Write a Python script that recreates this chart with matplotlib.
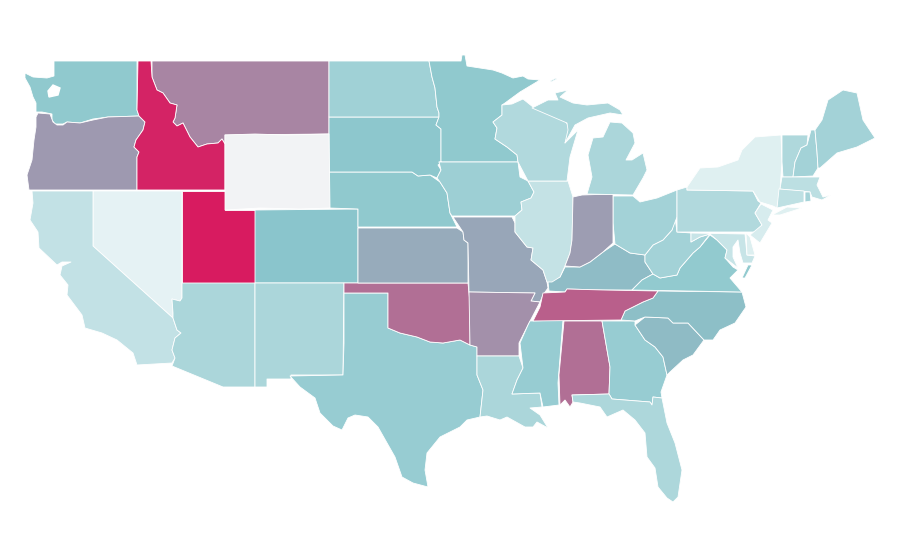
import numpy as np
from matplotlib import pyplot as plt
from matplotlib.collections import PolyCollection
from matplotlib.colors import LinearSegmentedColormap, Normalize

# state outlines (map units = picture pixels)
WA = [(54,61),(137,61),(137,110),(139,116),(108,117),(93,119),(80,123),(67,122),(63,124),(55,124),(52,120),(52,114),
      (42,112),(36,112),(36,103),(33,97),(30,87),(25,78),(25,73),(33,77),(47,78),(54,76)]
PUGET_SOUND = [(48,91),(53,85),(60,88),(58,95),(49,97)]
OR = [(36,117),(38,113),(50,114),(53,122),(57,125),(63,125),(67,122),(80,123),(93,120),(108,117),(139,116),(145,122),
      (143,130),(136,140),(134,147),(139,152),(137,157),(137,190),(29,190),(27,175),(32,160),(34,140),(36,127)]
ID = [(138,61),(151,61),(152,77),(157,90),(163,93),(170,103),(177,105),(175,118),(173,122),(177,126),(183,123),
      (190,137),(198,147),(207,144),(218,143),(222,139),(225,144),(225,190),(137,190),(137,157),(139,152),(134,147),
      (136,140),(143,130),(145,122),(139,116),(137,110)]
MT = [(152,61),(329,61),(329,134),(225,135),(225,144),(222,139),(218,143),(207,144),(198,147),(190,137),(183,123),
      (177,126),(173,122),(175,118),(177,105),(170,103),(163,93),(157,90),(152,77)]
WY = [(225,135),(255,134),(285,135),(329,134),(330,208),(300,209),(260,208),(225,210)]
NV = [(93,191),(182,191),(182,298),(180,301),(172,299),(173,313),(173,318),(93,246)]
CA = [(32,191),(93,191),(93,246),(173,318),(177,330),(181,333),(175,338),(172,350),(175,358),(172,363),(137,365),
      (133,353),(117,340),(102,333),(85,328),(82,315),(67,295),(68,285),(60,275),(62,266),(71,262),(62,262),(57,265),
      (39,248),(38,232),(30,220),(33,203)]
UT = [(182,191),(225,191),(225,210),(255,210),(255,283),(182,283)]
CO = [(255,210),(358,209),(358,283),(255,283)]
AZ = [(182,283),(255,283),(255,387),(223,387),(172,366),(175,358),(172,350),(175,338),(181,333),(177,330),(173,318),
      (173,313),(172,299),(180,301),(182,298)]
NM = [(255,283),(344,283),(343,375),(291,375),(291,379),(267,379),(267,387),(255,387)]
TX = [(344,293),(388,293),(388,328),(400,333),(417,337),(430,342),(443,343),(460,340),(470,345),(477,347),(477,375),
      (483,390),(480,417),(467,420),(460,427),(440,437),(427,453),(425,470),(428,487),(413,483),(402,477),(395,457),
      (378,427),(368,417),(355,415),(348,418),(342,430),(333,426),(320,413),(315,398),(300,387),(290,376),(343,375),
      (344,343)]
OK = [(344,283),(468,283),(470,303),(470,345),(460,340),(443,343),(430,342),(417,337),(400,333),(388,328),(388,293),
      (344,293)]
KS = [(358,228),(457,228),(463,232),(464,240),(468,243),(468,283),(358,283)]
NE = [(329,172),(412,172),(418,176),(430,175),(440,182),(447,193),(450,213),(457,227),(358,227),(358,209),(329,208)]
SD = [(329,117),(439,117),(436,125),(441,129),(441,163),(438,165),(441,170),(437,178),(430,175),(418,176),(412,172),
      (329,172)]
ND = [(329,61),(429,61),(432,77),(435,88),(437,107),(439,113),(439,117),(329,117)]
MN = [(429,61),(461,61),(462,55),(465,55),(467,66),(480,68),(493,70),(502,73),(513,78),(523,76),(528,79),(540,80),
      (520,92),(505,103),(502,105),(502,115),(493,122),(497,128),(495,139),(507,147),(517,155),(518,162),(439,162),
      (441,163),(441,129),(436,125),(439,117),(439,113),(437,107),(435,88),(432,77)]
IA = [(439,162),(518,162),(520,177),(528,181),(534,192),(531,198),(521,202),(522,210),(515,216),(452,216),(450,213),
      (447,193),(440,182),(437,178),(441,170)]
MO = [(453,217),(512,217),(515,223),(515,232),(527,247),(533,248),(531,260),(543,270),(547,282),(548,288),(543,295),
      (540,302),(531,301),(535,293),(469,292),(468,243),(464,240),(463,232)]
AR = [(469,292),(535,293),(531,301),(540,302),(528,325),(519,343),(519,356),(477,356),(477,347),(470,345)]
LA = [(477,356),(519,356),(523,368),(517,380),(512,394),(540,393),(542,407),(530,408),(540,415),(548,428),(537,422),
      (533,427),(525,427),(507,417),(500,420),(487,416),(480,417),(483,390),(477,375)]
MS = [(530,321),(563,320),(558,383),(559,405),(543,407),(540,393),(512,394),(517,380),(523,368),(520,343),(528,325)]
AL = [(564,321),(602,321),(610,367),(609,394),(572,395),(573,402),(570,407),(565,400),(560,405),(559,375)]
GA = [(602,321),(635,321),(635,325),(645,340),(655,347),(663,357),(667,375),(661,392),(662,398),(653,397),(652,405),
      (650,402),(612,399),(609,394),(610,367)]
FL = [(572,395),(609,394),(612,399),(650,402),(652,405),(653,397),(662,398),(667,423),(675,443),(682,470),(678,497),
      (673,502),(667,498),(658,487),(655,468),(647,457),(645,433),(635,420),(623,410),(607,417),(600,407),(580,403),
      (573,402)]
SC = [(635,325),(645,317),(668,318),(673,323),(688,323),(704,340),(693,355),(683,360),(670,372),(667,375),(663,357),
      (655,347),(645,340)]
NC = [(658,291),(742,292),(746,307),(735,323),(720,330),(713,340),(704,340),(688,323),(673,323),(668,318),(645,317),
      (635,321),(621,320),(625,311),(643,302),(653,298)]
TN = [(543,293),(565,292),(567,289),(603,290),(658,291),(653,298),(643,302),(625,311),(621,320),(533,321),(540,307)]
KY = [(565,292),(549,291),(548,282),(560,277),(565,267),(580,267),(590,262),(603,252),(615,244),(630,253),(645,255),
      (645,262),(653,274),(642,280),(632,290),(603,290),(567,289)]
VA = [(632,290),(642,280),(653,274),(660,278),(677,275),(680,268),(693,253),(700,247),(710,235),(717,240),(727,250),
      (725,258),(733,267),(738,270),(730,278),(742,292)]
VA_SHORE = [(748,265),(752,265),(745,278),(742,278)]
WV = [(645,255),(653,245),(663,240),(672,230),(675,217),(677,232),(691,233),(691,242),(700,237),(710,234),(700,247),
      (693,253),(680,268),(677,275),(660,278),(653,274),(645,262)]
OH = [(613,196),(633,196),(640,202),(657,198),(677,190),(677,217),(672,230),(663,240),(653,245),(645,255),(630,253),
      (615,244),(613,223)]
IN = [(573,197),(582,195),(613,194),(613,243),(603,252),(590,262),(580,267),(565,266),(570,253),(572,240)]
IL = [(528,181),(568,181),(573,197),(572,240),(570,253),(565,266),(560,277),(552,282),(547,282),(543,270),(531,260),
      (533,248),(527,247),(515,232),(515,223),(515,216),(522,210),(521,202),(531,198),(534,192)]
WI = [(502,105),(512,104),(523,99),(533,107),(563,118),(570,128),(565,143),(578,130),(570,157),(567,181),(528,181),
      (518,162),(517,155),(507,147),(495,139),(497,128),(493,122),(502,115)]
MI_UPPER = [(532,108),(548,100),(558,100),(555,93),(568,90),(560,97),(573,103),(587,105),(608,103),(620,110),(623,115),
            (610,113),(588,118),(575,125),(565,143),(568,130),(567,123)]
MI_LOWER = [(587,194),(592,177),(588,155),(593,138),(603,137),(610,122),(622,123),(633,133),(635,143),(626,160),
            (632,160),(643,153),(647,170),(643,178),(633,195)]
ISLE_ROYALE = [(550,81),(556,78),(557,79),(551,82)]
PA = [(677,190),(687,187),(687,190),(753,191),(758,201),(761,203),(755,213),(762,225),(756,232),(677,232)]
NY = [(687,190),(687,187),(700,168),(718,167),(738,160),(742,150),(755,137),(781,135),(782,162),(780,190),(777,208),
      (773,206),(760,202),(753,191)]
LONG_ISLAND = [(772,215),(787,207),(802,208),(780,215)]
NJ = [(761,204),(773,210),(768,220),(772,223),(760,243),(750,235),(762,225),(755,213)]
DE = [(746,233),(750,237),(755,255),(747,255)]
MD = [(691,233),(745,234),(747,255),(755,256),(752,263),(743,263),(740,253),(738,240),(733,247),(733,257),(738,268),
      (725,258),(727,250),(717,240),(710,234),(700,237),(691,242)]
VT = [(782,135),(808,135),(807,145),(801,148),(795,162),(793,177),(783,177),(782,162)]
NH = [(811,130),(815,130),(817,152),(818,168),(813,176),(793,177),(795,162),(801,148),(807,145)]
ME = [(815,130),(822,120),(828,100),(843,90),(857,93),(863,120),(875,138),(857,147),(837,153),(820,168),(818,168),
      (817,152)]
MA = [(782,177),(813,177),(820,177),(817,185),(823,197),(831,195),(822,200),(812,197),(810,192),(780,189)]
CT = [(779,189),(804,191),(804,202),(777,208)]
RI = [(805,192),(810,192),(811,201),(805,202)]

shapes = [WA, OR, MT, ID, NV, CA, UT, CO, AZ, NM, TX, OK, KS, NE, SD, ND, MN, IA, MO, AR, LA, MS, AL, GA, FL, SC, NC,
          KY, TN, VA, VA_SHORE, WV, OH, IL, IN, WI, MI_UPPER, MI_LOWER, ISLE_ROYALE, PA, NY, LONG_ISLAND, NJ, MD, DE,
          VT, NH, ME, MA, CT, RI, WY]
# value of each shape on the colour scale, same order as shapes (WY has no data)
values = [0.47, 0.63, 0.69, 0.975, 0.03, 0.21, 1.0, 0.5, 0.33, 0.33, 0.43, 0.75, 0.58, 0.47, 0.485, 0.385, 0.47, 0.40,
          0.59, 0.66, 0.33, 0.43, 0.75, 0.43, 0.32, 0.535, 0.52, 0.53, 0.8, 0.46, 0.46, 0.37, 0.37, 0.2, 0.62, 0.30,
          0.33, 0.33, 0.33, 0.3, 0.055, 0.055, 0.1, 0.18, 0.07, 0.31, 0.37, 0.37, 0.24, 0.23, 0.36, np.nan]

cmap = LinearSegmentedColormap.from_list('teal_crimson', ['#EAF5F6', '#8AC6CC', '#D81B60'])
cmap.set_bad('#F2F3F5')

fig = plt.figure(figsize=(9, 5.6), dpi=100)
ax = fig.add_axes([0, 0, 1, 1])

states = PolyCollection(shapes, array=np.ma.masked_invalid(values), cmap=cmap, norm=Normalize(0, 1),
                        edgecolors='white', linewidths=0.6)
ax.add_collection(states)
ax.fill(*zip(*PUGET_SOUND), color='white', zorder=3)

ax.set_xlim(0, 900)
ax.set_ylim(560, 0)
ax.axis('off')

plt.savefig('out.png', dpi=100, facecolor='white')
